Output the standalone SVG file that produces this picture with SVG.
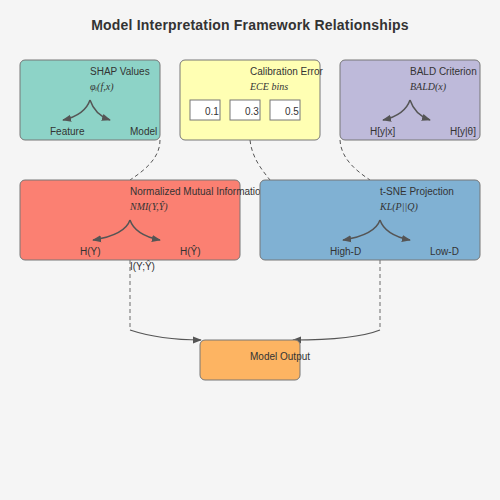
<svg xmlns="http://www.w3.org/2000/svg" width="500" height="500" viewBox="0 0 500 500">
<defs>
<marker id="ah" viewBox="0 0 10 10" refX="9" refY="5" markerWidth="9" markerHeight="9" orient="auto-start-reverse" markerUnits="userSpaceOnUse">
<path d="M0,1 L10,5 L0,9 Z" fill="#555"/>
</marker>
</defs>
<style>
.node rect.box{stroke:#777;stroke-width:1;}
.t{font-family:"Liberation Sans",Arial,sans-serif;font-size:10px;fill:#333;}
.f{font-family:"Liberation Serif","DejaVu Serif",serif;font-style:italic;font-size:10px;fill:#333;}
.mini{fill:none;stroke:#555;stroke-width:1.5;}
.bin{fill:#fff;stroke:#777;stroke-width:1;}
.dash{fill:none;stroke:#555;stroke-width:1;stroke-dasharray:4,3;}
.vdash{fill:none;stroke:#999;stroke-width:1.5;stroke-dasharray:4,3;}
.solid{fill:none;stroke:#555;stroke-width:1.2;}
.title{font-family:"Liberation Sans",Arial,sans-serif;font-size:14px;font-weight:bold;fill:#333;letter-spacing:0.2px;}
</style>
<rect width="500" height="500" fill="#f5f5f5"/>
<text class="title" x="250" y="30" text-anchor="middle">Model Interpretation Framework Relationships</text>

<g id="connectors">
<path class="dash" d="M160,140 C160,158 145,170 130,180"/>
<path class="dash" d="M250,140 C252,158 262,170 270,180"/>
<path class="dash" d="M340,140 C341,158 355,170 370,180"/>
<path class="vdash" d="M130,260 L130,330"/>
<path class="vdash" d="M380,260 L380,330"/>
<path class="solid" d="M130,330 Q160,340 201,340" marker-end="url(#ah)"/>
<path class="solid" d="M380,330 Q355,340 293,340" marker-end="url(#ah)"/>
<text class="t" x="130" y="270">I(Y;Ŷ)</text>
</g>

<g id="shap" class="node">
<rect class="box" x="20" y="60" width="140" height="80" rx="5" fill="#8dd3c7"/>
<text class="t" x="90" y="75">SHAP Values</text>
<text class="f" x="90" y="90">φᵢ(f,x)</text>
<path class="mini" d="M90,100 Q85,115 63,120" marker-end="url(#ah)"/>
<path class="mini" d="M90,100 Q95,115 110,120" marker-end="url(#ah)"/>
<text class="t" x="50" y="135">Feature</text>
<text class="t" x="130" y="135">Model</text>
</g>

<g id="calibration" class="node">
<rect class="box" x="180" y="60" width="140" height="80" rx="5" fill="#ffffb3"/>
<text class="t" x="250" y="75">Calibration Error</text>
<text class="f" x="250" y="90">ECE bins</text>
<rect class="bin" x="190" y="100" width="30" height="20"/>
<rect class="bin" x="230" y="100" width="30" height="20"/>
<rect class="bin" x="270" y="100" width="30" height="20"/>
<text class="t" x="205" y="115">0.1</text>
<text class="t" x="245" y="115">0.3</text>
<text class="t" x="285" y="115">0.5</text>
</g>

<g id="bald" class="node">
<rect class="box" x="340" y="60" width="140" height="80" rx="5" fill="#bebada"/>
<text class="t" x="410" y="75">BALD Criterion</text>
<text class="f" x="410" y="90">BALD(x)</text>
<path class="mini" d="M410,100 Q405,115 383,120" marker-end="url(#ah)"/>
<path class="mini" d="M410,100 Q415,115 430,120" marker-end="url(#ah)"/>
<text class="t" x="370" y="135">H[y|x]</text>
<text class="t" x="450" y="135">H[y|θ]</text>
</g>

<g id="nmi" class="node">
<rect class="box" x="20" y="180" width="220" height="80" rx="5" fill="#fb8072"/>
<text class="t" x="130" y="195">Normalized Mutual Information</text>
<text class="f" x="130" y="210">NMI(Y,Ŷ)</text>
<path class="mini" d="M130,220 Q125,235 93,240" marker-end="url(#ah)"/>
<path class="mini" d="M130,220 Q135,235 160,240" marker-end="url(#ah)"/>
<text class="t" x="80" y="255">H(Y)</text>
<text class="t" x="180" y="255">H(Ŷ)</text>
</g>

<g id="tsne" class="node">
<rect class="box" x="260" y="180" width="220" height="80" rx="5" fill="#80b1d3"/>
<text class="t" x="380" y="195">t-SNE Projection</text>
<text class="f" x="380" y="210">KL(P||Q)</text>
<path class="mini" d="M380,220 Q375,235 343,240" marker-end="url(#ah)"/>
<path class="mini" d="M380,220 Q385,235 410,240" marker-end="url(#ah)"/>
<text class="t" x="330" y="255">High-D</text>
<text class="t" x="430" y="255">Low-D</text>
</g>

<g id="output" class="node">
<rect class="box" x="200" y="340" width="100" height="40" rx="5" fill="#fdb462"/>
<text class="t" x="250" y="360">Model Output</text>
</g>
</svg>
